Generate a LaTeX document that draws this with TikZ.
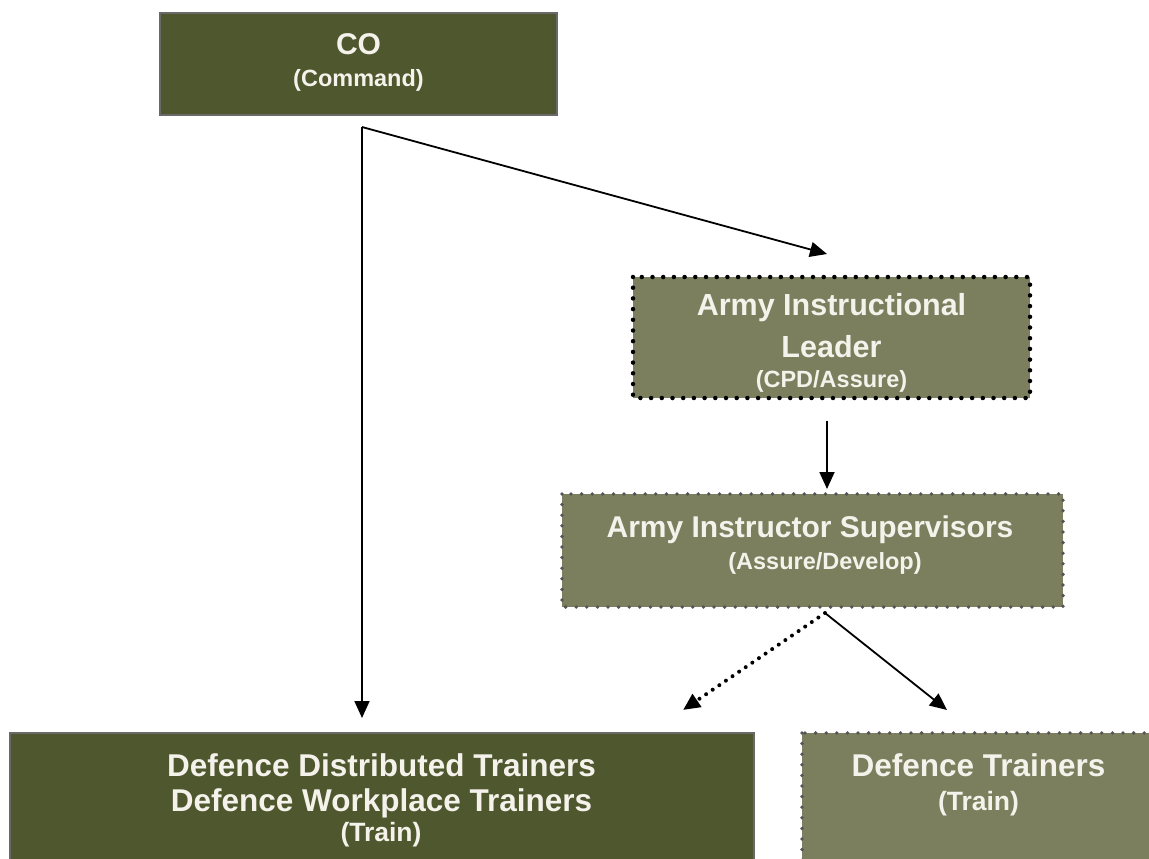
\documentclass[tikz,border=0pt]{standalone}
\usepackage{fontspec}
\setmainfont{Liberation Sans}
\usetikzlibrary{arrows.meta}
\definecolor{darkolive}{RGB}{79,87,46}
\definecolor{lightolive}{RGB}{123,127,94}
\definecolor{boxtext}{RGB}{244,242,234}
\definecolor{dotgray}{RGB}{85,85,85}
\definecolor{edgegray}{RGB}{105,105,105}
\begin{document}
\begin{tikzpicture}[x=1pt,y=-1pt,
  darkbox/.style={draw=edgegray, line width=1.5pt, fill=darkolive},
  lightbox/.style={fill=lightolive},
  dotblack/.style={draw=black, line width=4.5pt, line cap=round, dash pattern=on 0pt off 10.7pt},
  dotgrey/.style={draw=dotgray, line width=3.8pt, line cap=round, dash pattern=on 0pt off 10.6pt},
  ttl/.style={text=boxtext, anchor=base, inner sep=0pt, font=\bfseries\fontsize{30.5}{30.5}\selectfont},
  sub/.style={text=boxtext, anchor=base, inner sep=0pt, font=\bfseries\fontsize{23.5}{23.5}\selectfont},
  subt/.style={text=boxtext, anchor=base, inner sep=0pt, font=\bfseries\fontsize{26.5}{26.5}\selectfont},
  conn/.style={draw=black, line width=1.8pt, -{Triangle[length=17pt,width=15pt]}},
  dotconn/.style={draw=black, line width=4pt, line cap=round, dash pattern=on 0pt off 8pt, -{Triangle[length=17pt,width=15pt,line cap=butt]}}
]
\useasboundingbox (0,0) rectangle (1149,859);
\fill[white] (0,0) rectangle (1149,859);

% boxes
\path[darkbox] (160,13) rectangle (557,115);
\node[inner sep=0pt, minimum width=397pt, minimum height=102pt] (co) at (358.5,64) {};

\path[lightbox] (633,277) rectangle (1030,398);
\path[dotblack] (633,277) rectangle (1030,398);
\node[inner sep=0pt, minimum width=397pt, minimum height=121pt] (ail) at (831.5,337.5) {};

\path[lightbox] (562,494) rectangle (1063,607);
\path[dotgrey] (562,494) rectangle (1063,607);
\node[inner sep=0pt, minimum width=501pt, minimum height=113pt] (ais) at (812.5,550.5) {};

\path[darkbox] (10,733) rectangle (754,880);
\node[inner sep=0pt, minimum width=744pt, minimum height=147pt] (ddt) at (382,806.5) {};

\path[lightbox] (802,733) rectangle (1160,880);
\path[dotgrey] (802,733) rectangle (1160,880);
\node[inner sep=0pt, minimum width=358pt, minimum height=147pt] (dt) at (981,806.5) {};

% texts
\node[ttl, font=\bfseries\fontsize{30}{30}\selectfont] (co-t1) at (358.5,55) {CO};
\node[sub] (co-t2) at (358.5,86.5) {(Command)};

\node[ttl] (ail-t1) at (831.5,315.5) {Army Instructional};
\node[ttl] (ail-t2) at (831.5,357.5) {Leader};
\node[sub] (ail-t3) at (831.5,387) {(CPD/Assure)};

\node[ttl, font=\bfseries\fontsize{30}{30}\selectfont] (ais-t1) at (810,537.5) {Army Instructor Supervisors};
\node[sub] (ais-t2) at (825,569) {(Assure/Develop)};

\node[ttl, font=\bfseries\fontsize{31.5}{31.5}\selectfont] (ddt-t1) at (381.5,776) {Defence Distributed Trainers};
\node[ttl, font=\bfseries\fontsize{31.5}{31.5}\selectfont] (ddt-t2) at (381.5,811.7) {Defence Workplace Trainers};
\node[subt] (ddt-t3) at (381,841.7) {(Train)};

\node[ttl, font=\bfseries\fontsize{31.5}{31.5}\selectfont] (dt-t1) at (978.5,776) {Defence Trainers};
\node[subt] (dt-t2) at (978.5,810) {(Train)};

% connector points
\coordinate (split) at (362,127);
\coordinate (ddt-in) at (362,718);
\coordinate (ail-in) at (827,254);
\coordinate (ail-out) at (827,421);
\coordinate (ais-in) at (827,489);
\coordinate (ais-out) at (825,613);
\coordinate (ddt-in2) at (683,710);
\coordinate (dt-in) at (947,710);

\draw[conn] (split) -- (ddt-in);
\draw[conn] (split) -- (ail-in);
\draw[conn] (ail-out) -- (ais-in);
\draw[dotconn] (ais-out) -- (ddt-in2);
\draw[conn] (ais-out) -- (dt-in);
\end{tikzpicture}
\end{document}
